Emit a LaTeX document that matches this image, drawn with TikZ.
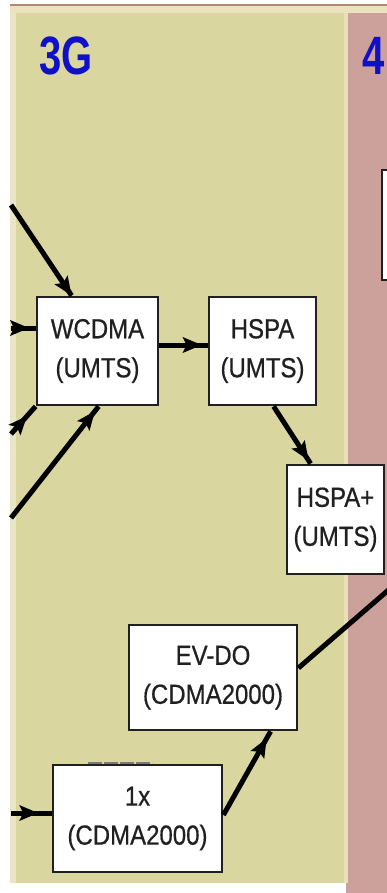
\documentclass[tikz,border=0pt]{standalone}
\usepackage{fontspec}
\setmainfont{Liberation Sans}
\newfontfamily\boxfont[FakeBold=0.7]{Liberation Sans}
\usepackage{graphicx}
\usetikzlibrary{decorations.markings}

\definecolor{olive3g}{RGB}{217,215,159}
\definecolor{pale3g}{RGB}{232,230,196}
\definecolor{pink4g}{RGB}{205,161,155}
\definecolor{rimline}{RGB}{176,138,108}
\definecolor{rimpale}{RGB}{236,226,192}
\definecolor{seam}{RGB}{234,224,182}
\definecolor{gblue}{RGB}{16,16,200}
\definecolor{ink}{RGB}{32,32,32}

% slightly tall lettering
\newcommand\vst[1]{\scalebox{1}[1.15]{#1}}

\begin{document}
\begin{tikzpicture}[x=1pt,y=-1pt,
  box/.style={draw=ink, line width=2.8pt, fill=white, inner sep=0pt,
              align=center, text=ink, font=\boxfont\fontsize{24}{39}\selectfont},
  link/.style={draw=black, line width=5pt},
  tipat/.style={postaction=decorate,
    decoration={markings, mark=at position #1 with
      {\fill[black] (2pt,0pt) -- (-17pt,8pt) -- (-13pt,0pt) -- (-17pt,-8pt) -- cycle;}}},
  era/.style={text=gblue, font=\bfseries\fontsize{40}{40}\selectfont, inner sep=0pt, anchor=west}
]
\useasboundingbox (0,0) rectangle (387,893);
\clip (0,0) rectangle (387,893);

% page background and the two generation bands
\fill[white] (0,0) rectangle (387,893);
\fill[olive3g] (10,6) rectangle (346,883);
\fill[pale3g] (10,6) rectangle (16,883);
\fill[pink4g] (346,6) rectangle (387,893);
\fill[seam] (344,6) rectangle (348,883);
\fill[rimpale] (10,6) rectangle (387,13);
\fill[rimline] (10,4) rectangle (387,6.5);

% band headings
\node[era] (g3) at (39,56) {\scalebox{1}[1.35]{3G}};
\node[era] (g4) at (362,56) {\scalebox{1}[1.35]{4}};

% technology boxes
\node[box, minimum width=60pt, minimum height=110pt] (lte) at (412,225) {};
\node[box, minimum width=121pt, minimum height=108pt] (wcdma) at (97.5,351) {\vst{WCDMA}\\\vst{(UMTS)}};
\node[box, minimum width=107pt, minimum height=108pt] (hspa) at (262.5,351) {\vst{HSPA}\\\vst{(UMTS)}};
\node[box, minimum width=97pt, minimum height=109pt] (hspaplus) at (335.5,519.5) {\vst{HSPA+}\\\vst{(UMTS)}};
\node[box, minimum width=168pt, minimum height=105pt] (evdo) at (213,677.5) {\vst{EV-DO}\\\vst{(CDMA2000)}};
\node[box, minimum width=169pt, minimum height=107pt] (onex) at (137.5,818.5) {\vst{1x}\\\vst{(CDMA2000)}};
\draw[ink!60, line width=1.8pt, dash pattern=on 14pt off 2pt] (88,762.8) -- (152,762.8);

% loose ends of the links
\coordinate (s1) at (11,205);
\coordinate (s2) at (11,328);
\coordinate (s3) at (11,434);
\coordinate (s4) at (11,518);
\coordinate (s9) at (11,813);
\coordinate (e7) at (400,580);

% links
\draw[link, tipat=-2pt] (s1) -- ([xshift=36pt]wcdma.north west);
\draw[link, tipat=0.65] (s2) -- (s2 -| wcdma.west);
\draw[link, tipat=0.6] (s3) -- (wcdma.south west);
\draw[link, tipat=-8pt] (s4) -- ([xshift=63pt]wcdma.south west);
\draw[link, tipat=-8pt] ([yshift=6pt]wcdma.east) -- ([yshift=6pt]hspa.west);
\draw[link, tipat=-6pt] ([xshift=66pt]hspa.south west) -- ([xshift=25pt]hspaplus.north west);
\draw[link] ([yshift=9.5pt]evdo.east) -- (e7);
\draw[link, tipat=-10pt] ([yshift=3.5pt]onex.east) -- ([xshift=143pt]evdo.south west);
\draw[link, tipat=0.62] (s9) -- (s9 -| onex.west);
\end{tikzpicture}
\end{document}
